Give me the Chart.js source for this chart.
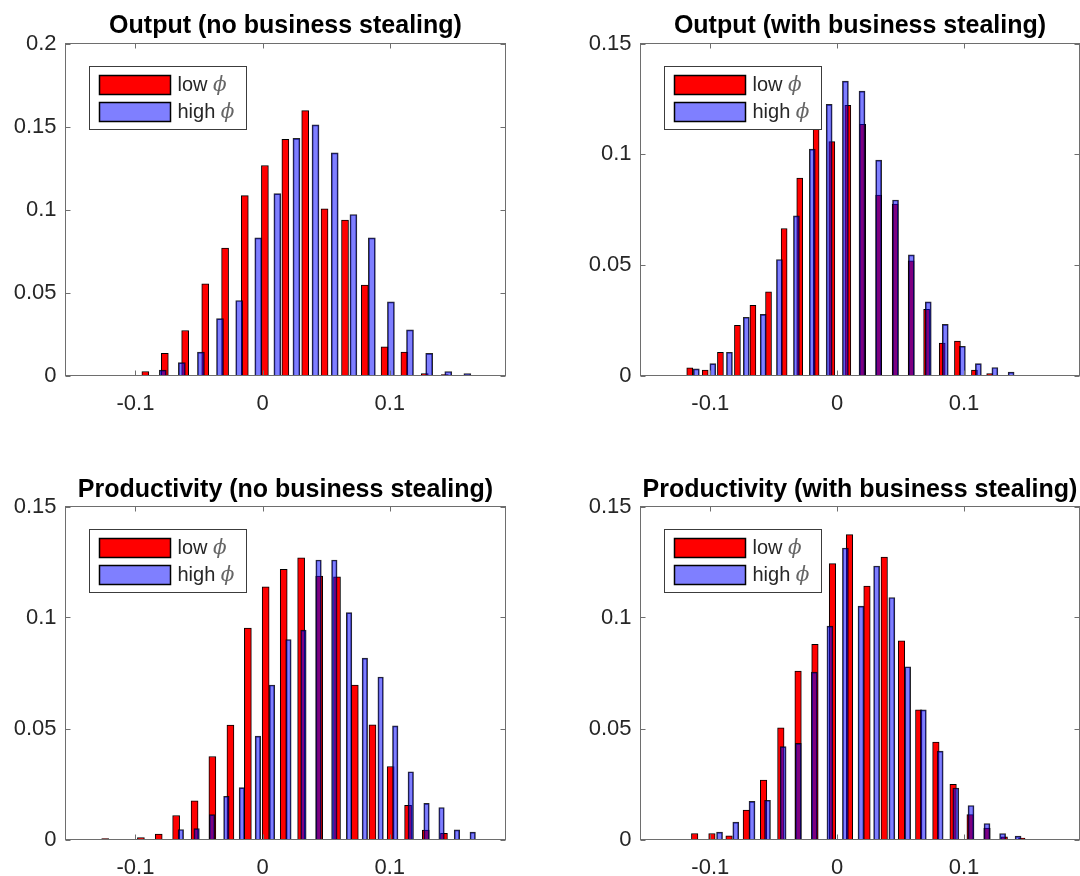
<!DOCTYPE html>
<html>
<head>
<meta charset="utf-8">
<script src="https://cdn.jsdelivr.net/npm/chart.js@4.4.1/dist/chart.umd.min.js"></script>
<style>
  body { margin: 0; background: #fff; }
  #fig { position: relative; width: 1080px; height: 876px; overflow: hidden; }
  canvas { position: absolute; }
</style>
</head>
<body>
<div id="fig">
  <canvas id="outNo" width="540" height="438" style="left:0;top:0"></canvas>
  <canvas id="outWith" width="540" height="438" style="left:540px;top:0"></canvas>
  <canvas id="prodNo" width="540" height="438" style="left:0;top:438px"></canvas>
  <canvas id="prodWith" width="540" height="438" style="left:540px;top:438px"></canvas>
</div>
<script>
// series names and ticks
var seriesLow = 'low'
var seriesHigh = 'high'
var phi = '\u03D5'
var xTickVals = [-0.1, 0, 0.1]
var yTicksOutNo = [0, 0.05, 0.1, 0.15, 0.2]
var yTicksRest = [0, 0.05, 0.1, 0.15]

// Output (no business stealing)
var outNoLowX = [-0.0922, -0.0769, -0.0609, -0.0451, -0.0295, -0.0140, 0.0018, 0.0179, 0.0335, 0.0487, 0.0648, 0.0804, 0.0959, 0.1115, 0.1275, 0.1433]
var outNoLowY = [0.0024, 0.0133, 0.0271, 0.0552, 0.0767, 0.1084, 0.1265, 0.1422, 0.1596, 0.1004, 0.0936, 0.0544, 0.0173, 0.0141, 0.0012, 0.0006]
var outNoHighX = [-0.0785, -0.0635, -0.0485, -0.0335, -0.0184, -0.0034, 0.0116, 0.0266, 0.0416, 0.0567, 0.0714, 0.0859, 0.1009, 0.1159, 0.1310, 0.1460, 0.1610]
var outNoHighY = [0.0032, 0.0078, 0.0141, 0.0343, 0.0452, 0.0829, 0.1096, 0.1428, 0.1510, 0.1341, 0.0970, 0.0829, 0.0444, 0.0275, 0.0133, 0.0024, 0.0012]

// Output (with business stealing)
var outWithLowX = [-0.1162, -0.1040, -0.0920, -0.0786, -0.0664, -0.0541, -0.0418, -0.0295, -0.0166, -0.0042, 0.0084, 0.0201, 0.0327, 0.0457, 0.0583, 0.0705, 0.0828, 0.0948, 0.1082, 0.1202]
var outWithLowY = [0.0035, 0.0024, 0.0105, 0.0227, 0.0317, 0.0378, 0.0664, 0.0892, 0.1150, 0.1057, 0.1221, 0.1135, 0.0815, 0.0775, 0.0518, 0.0299, 0.0146, 0.0155, 0.0024, 0.0009]
var outWithHighX = [-0.1110, -0.0980, -0.0849, -0.0716, -0.0583, -0.0455, -0.0321, -0.0196, -0.0063, 0.0065, 0.0196, 0.0327, 0.0460, 0.0585, 0.0718, 0.0852, 0.0987, 0.1113, 0.1243, 0.1371]
var outWithHighY = [0.0030, 0.0054, 0.0105, 0.0263, 0.0276, 0.0524, 0.0721, 0.1023, 0.1225, 0.1330, 0.1285, 0.0973, 0.0793, 0.0545, 0.0333, 0.0231, 0.0132, 0.0054, 0.0036, 0.0015]

// Productivity (no business stealing)
var prodNoLowX = [-0.1238, -0.0957, -0.0817, -0.0680, -0.0535, -0.0395, -0.0253, -0.0116, 0.0024, 0.0166, 0.0303, 0.0445, 0.0585, 0.0725, 0.0864, 0.1007, 0.1144, 0.1283, 0.1426]
var prodNoLowY = [0.0004, 0.0009, 0.0024, 0.0108, 0.0174, 0.0374, 0.0515, 0.0952, 0.1138, 0.1217, 0.1269, 0.1187, 0.1183, 0.0696, 0.0516, 0.0329, 0.0154, 0.0042, 0.0028]
var prodNoHighX = [-0.0643, -0.0519, -0.0398, -0.0285, -0.0163, -0.0037, 0.0074, 0.0203, 0.0321, 0.0440, 0.0564, 0.0680, 0.0804, 0.0928, 0.1043, 0.1165, 0.1289, 0.1407, 0.1528, 0.1652]
var prodNoHighY = [0.0045, 0.0049, 0.0112, 0.0195, 0.0234, 0.0466, 0.0696, 0.0901, 0.0943, 0.1259, 0.1259, 0.1022, 0.0817, 0.0732, 0.0512, 0.0305, 0.0163, 0.0144, 0.0043, 0.0033]

// Productivity (with business stealing)
var prodWithLowX = [-0.1123, -0.0987, -0.0852, -0.0716, -0.0580, -0.0444, -0.0308, -0.0175, -0.0037, 0.0097, 0.0235, 0.0371, 0.0507, 0.0643, 0.0778, 0.0914, 0.1048, 0.1181, 0.1317, 0.1455]
var prodWithLowY = [0.0027, 0.0027, 0.0016, 0.0132, 0.0268, 0.0503, 0.0759, 0.0879, 0.1243, 0.1373, 0.1141, 0.1272, 0.0895, 0.0584, 0.0439, 0.0249, 0.0112, 0.0052, 0.0012, 0.0006]
var prodWithHighX = [-0.0927, -0.0799, -0.0671, -0.0549, -0.0426, -0.0306, -0.0180, -0.0057, 0.0065, 0.0188, 0.0311, 0.0431, 0.0556, 0.0679, 0.0812, 0.0935, 0.1055, 0.1181, 0.1304, 0.1426]
var prodWithHighY = [0.0033, 0.0078, 0.0172, 0.0177, 0.0418, 0.0433, 0.0754, 0.0961, 0.1313, 0.1051, 0.1232, 0.1090, 0.0778, 0.0584, 0.0398, 0.0232, 0.0153, 0.0072, 0.0027, 0.0015]

var sans = "'Liberation Sans', Arial, Helvetica, sans-serif"
var axisGray = '#6e6e6e'
var textGray = '#262626'
var lowColor = '#ff0000'
var highColor = 'rgba(0,0,255,0.5)'

Chart.defaults.font.family = sans
Chart.defaults.color = textGray

// axes box with inward ticks + matlab style legend box
var boxAndLegend = {
    id: 'boxAndLegend',
    afterDatasetsDraw: function(chart) {
        var ctx = chart.ctx
        var a = chart.chartArea
        var xs = chart.scales.x
        var ys = chart.scales.y
        ctx.save()
        ctx.strokeStyle = axisGray
        ctx.lineWidth = 1
        ctx.strokeRect(a.left, a.top, a.right - a.left, a.bottom - a.top)
        ctx.beginPath()
        xs.ticks.forEach(function(t) {
            var px = Math.round(xs.getPixelForValue(t.value)) + 0.5
            ctx.moveTo(px, a.bottom); ctx.lineTo(px, a.bottom - 5)
            ctx.moveTo(px, a.top); ctx.lineTo(px, a.top + 5)
        })
        ys.ticks.forEach(function(t) {
            var py = Math.round(ys.getPixelForValue(t.value)) + 0.5
            ctx.moveTo(a.left, py); ctx.lineTo(a.left + 5, py)
            ctx.moveTo(a.right, py); ctx.lineTo(a.right - 5, py)
        })
        ctx.stroke()

        // legend
        var bx = a.left + 24, by = a.top + 23, bw = 157, bh = 63
        ctx.fillStyle = '#fff'
        ctx.fillRect(bx, by, bw, bh)
        ctx.strokeStyle = '#3c3c3c'
        ctx.strokeRect(bx, by, bw, bh)
        chart.data.datasets.slice().sort(function(p, q) { return q.order - p.order }).forEach(function(ds, i) {
            var sy = by + 9 + i * 27
            ctx.fillStyle = '#fff'
            ctx.fillRect(bx + 10, sy, 71, 19)
            ctx.fillStyle = ds.backgroundColor
            ctx.fillRect(bx + 10, sy, 71, 19)
            ctx.strokeStyle = '#000'
            ctx.lineWidth = 1.5
            ctx.strokeRect(bx + 10, sy, 71, 19)
            ctx.textBaseline = 'middle'
            ctx.fillStyle = textGray
            ctx.font = '20px ' + sans
            ctx.fillText(ds.label, bx + 88, sy + 10)
            var w = ctx.measureText(ds.label + ' ').width
            ctx.font = "italic 20px 'DejaVu Serif', serif"
            ctx.fillStyle = '#666'
            ctx.fillText(phi, bx + 88 + w, sy + 10)
        })
        ctx.restore()
    }
}

function pts(xs, ys) {
    return xs.map(function(x, i) { return {x: x, y: ys[i]} })
}

function makePanel(id, title, lowX, lowY, highX, highY, yTicks, lay) {
    var ctx = document.getElementById(id).getContext('2d')
    return new Chart(ctx, {
        type: 'bar',
        data: {
            datasets: [
                {
                    label: seriesLow,
                    data: pts(lowX, lowY),
                    backgroundColor: lowColor,
                    borderColor: '#000',
                    borderWidth: 1,
                    barThickness: lay.lowW,
                    grouped: false,
                    order: 2
                },
                {
                    label: seriesHigh,
                    data: pts(highX, highY),
                    backgroundColor: highColor,
                    borderColor: 'rgba(0,0,0,0.85)',
                    borderWidth: 1,
                    barThickness: lay.highW,
                    grouped: false,
                    order: 1
                }
            ]
        },
        options: {
            responsive: false,
            animation: false,
            devicePixelRatio: 1,
            layout: { padding: { left: 0, right: lay.padRight, top: 0, bottom: 0 } },
            plugins: {
                legend: { display: false },
                tooltip: { enabled: false },
                title: {
                    display: true,
                    fullSize: false,
                    text: title,
                    color: '#000',
                    font: { size: 25, weight: 'bold', lineHeight: 1.2 },
                    padding: { top: lay.titleTop, bottom: lay.titleBottom }
                }
            },
            scales: {
                x: {
                    type: 'linear',
                    min: -0.155,
                    max: 0.191,
                    offset: false,
                    grid: { display: false, drawTicks: false },
                    border: { display: false },
                    afterBuildTicks: function(s) { s.ticks = xTickVals.map(function(v) { return {value: v} }) },
                    afterFit: function(s) { s.height = lay.xH },
                    ticks: { font: { size: 22 }, padding: 15, maxRotation: 0, callback: function(v) { return String(v) } }
                },
                y: {
                    min: 0,
                    max: yTicks[yTicks.length - 1],
                    grid: { display: false, drawTicks: false },
                    border: { display: false },
                    afterBuildTicks: function(s) { s.ticks = yTicks.map(function(v) { return {value: v} }) },
                    afterFit: function(s) { s.width = lay.yW },
                    ticks: { font: { size: 22 }, padding: 9, callback: function(v) { return String(v) } }
                }
            }
        },
        plugins: [boxAndLegend]
    })
}

makePanel('outNo', 'Output (no business stealing)', outNoLowX, outNoLowY, outNoHighX, outNoHighY, yTicksOutNo,
    { lowW: 7, highW: 7, padRight: 34.5, yW: 65.5, xH: 62.5, titleTop: 11, titleBottom: 2.5 })
makePanel('outWith', 'Output (with business stealing)', outWithLowX, outWithLowY, outWithHighX, outWithHighY, yTicksRest,
    { lowW: 6, highW: 6, padRight: 0.5, yW: 100.5, xH: 62.5, titleTop: 11, titleBottom: 2.5 })
makePanel('prodNo', 'Productivity (no business stealing)', prodNoLowX, prodNoLowY, prodNoHighX, prodNoHighY, yTicksRest,
    { lowW: 7, highW: 5.5, padRight: 34.5, yW: 65.5, xH: 36.5, titleTop: 37, titleBottom: 1.5 })
makePanel('prodWith', 'Productivity (with business stealing)', prodWithLowX, prodWithLowY, prodWithHighX, prodWithHighY, yTicksRest,
    { lowW: 6.5, highW: 6, padRight: 0.5, yW: 100.5, xH: 36.5, titleTop: 37, titleBottom: 1.5 })
</script>
</body>
</html>
